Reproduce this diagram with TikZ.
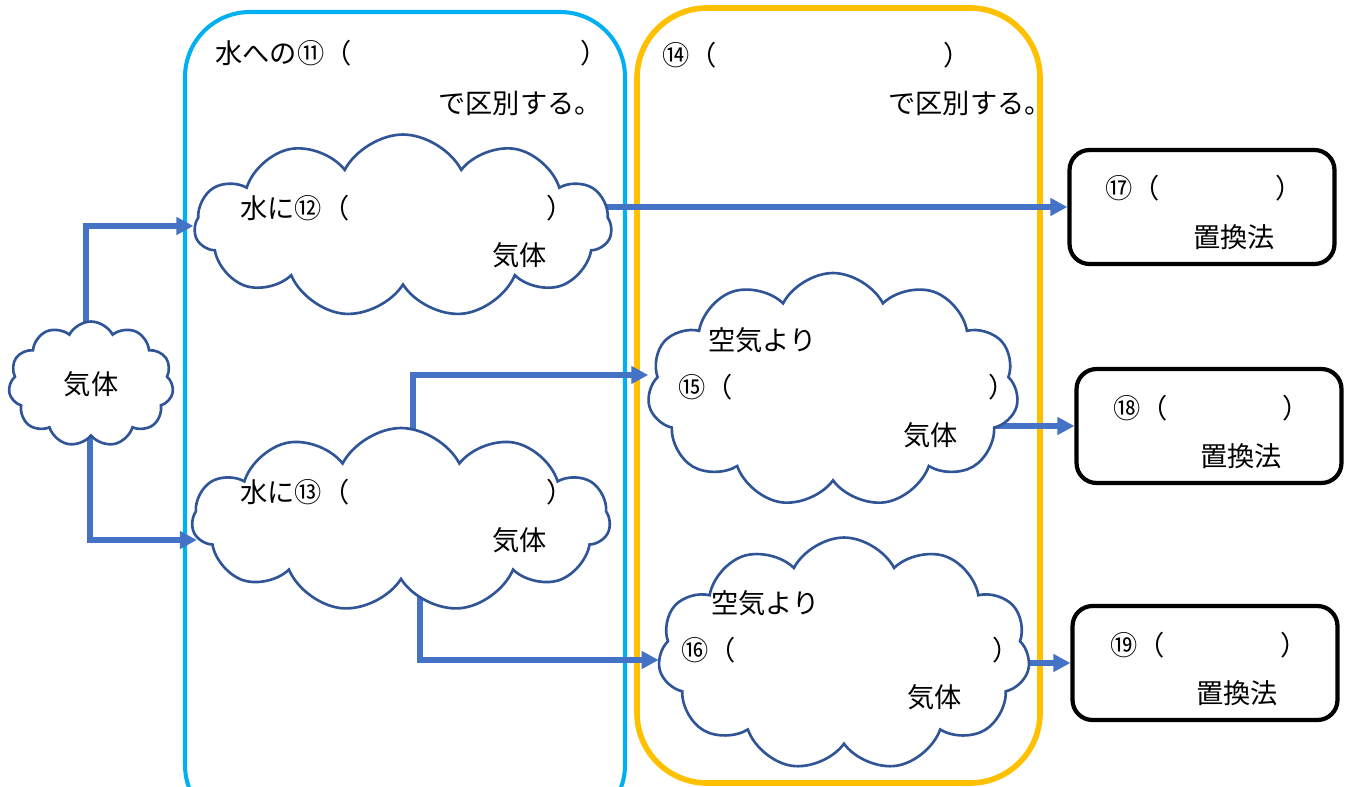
\documentclass[tikz,border=0pt]{standalone}
\usepackage{fontspec}
\setmainfont{Noto Sans CJK JP}
\usetikzlibrary{shapes.symbols,arrows.meta,calc,backgrounds}

\definecolor{sky}{HTML}{00B0F0}
\definecolor{amber}{HTML}{FFC000}
\definecolor{flow}{HTML}{4472C4}
\definecolor{puff}{HTML}{2F5597}

\tikzset{
  puffy/.style={cloud, cloud puffs=11, cloud puff arc=125, draw=puff, line width=1.5pt, fill=white},
  method/.style={draw, rounded corners=0.4cm, line width=2.4pt, minimum width=5.3cm, minimum height=2.28cm},
  flowarrow/.style={flow, line width=3.2pt, -{Triangle[length=0.34cm,width=0.34cm]}},
  lbl/.style={anchor=west, inner sep=0pt, font=\fontsize{15.5}{18}\selectfont},
}

\begin{document}
\begin{tikzpicture}[x=0.02cm,y=-0.02cm]
\useasboundingbox (0,0) rectangle (1348,787);

% clouds
\node[puffy, minimum width=3.3cm,  minimum height=2.5cm]  (c0)  at (91,384)  {};
\node[puffy, minimum width=8.34cm, minimum height=3.66cm] (c12) at (403,226) {};
\node[puffy, minimum width=8.36cm, minimum height=3.68cm] (c13) at (401,520) {};
\node[puffy, minimum width=7.42cm, minimum height=4.68cm] (c15) at (833,390) {};
\node[puffy, minimum width=7.44cm, minimum height=4.66cm] (c16) at (844,654) {};

% collecting methods
\node[method] (b17) at (1202,207) {};
\node[method] (b18) at (1209,426) {};
\node[method] (b19) at (1205,663) {};

% texts
\node[lbl, anchor=center] (t0) at (c0) {気体};

\node[lbl] (t11)  at (215,53)  {水への⑪（};
\node[lbl] (t11r) at (580,53)  {）};
\node[lbl] (t11b) at (438,103) {で区別する。};
\node[lbl] (t14)  at (662,55)  {⑭（};
\node[lbl] (t14r) at (943,55)  {）};
\node[lbl] (t14b) at (888,103) {で区別する。};

\node[lbl] (t12)  at (240,208) {水に⑫（};
\node[lbl] (t12r) at (546,208) {）};
\node[lbl] (t12b) at (492,255) {気体};
\node[lbl] (t13)  at (240,492) {水に⑬（};
\node[lbl] (t13r) at (546,492) {）};
\node[lbl] (t13b) at (492,540) {気体};

\node[lbl] (t15a) at (708,340) {空気より};
\node[lbl] (t15)  at (678,387) {⑮（};
\node[lbl] (t15r) at (988,387) {）};
\node[lbl] (t15b) at (903,435) {気体};
\node[lbl] (t16a) at (711,603) {空気より};
\node[lbl] (t16)  at (681,650) {⑯（};
\node[lbl] (t16r) at (992,650) {）};
\node[lbl] (t16b) at (907,697) {気体};

\node[lbl] (t17)  at (1105,188) {⑰（};
\node[lbl] (t17r) at (1275,188) {）};
\node[lbl] (t17b) at (1193,237) {置換法};
\node[lbl] (t18)  at (1113,408) {⑱（};
\node[lbl] (t18r) at (1282,408) {）};
\node[lbl] (t18b) at (1200,456) {置換法};
\node[lbl] (t19)  at (1110,645) {⑲（};
\node[lbl] (t19r) at (1280,645) {）};
\node[lbl] (t19b) at (1196,693) {置換法};

\begin{pgfonlayer}{background}
  % the two frames
  \draw[sky, line width=2.3pt, rounded corners=1.3cm] (185,12) rectangle (625,830);
  \draw[amber, line width=3.2pt, rounded corners=1.4cm] (637,8) rectangle (1040,783);
  % arrows
  \draw[flowarrow] ($(c0)+(-5,0)$) |- (c12.west);
  \draw[flowarrow] ($(c0)+(-1,0)$) |- ($(c13.west)+(6,20)$);
  \draw[flowarrow] (b17.west -| c12) -- (b17.west);
  \draw[flowarrow] ($(c13)+(12,0)$) |- ($(c15.west)+(0,-15)$);
  \draw[flowarrow] ($(c13)+(19,0)$) |- ($(c16.west)+(0,6)$);
  \draw[flowarrow] (b18.west -| c15) -- (b18.west);
  \draw[flowarrow] (b19.west -| c16) -- (b19.west);
\end{pgfonlayer}
\end{tikzpicture}
\end{document}
